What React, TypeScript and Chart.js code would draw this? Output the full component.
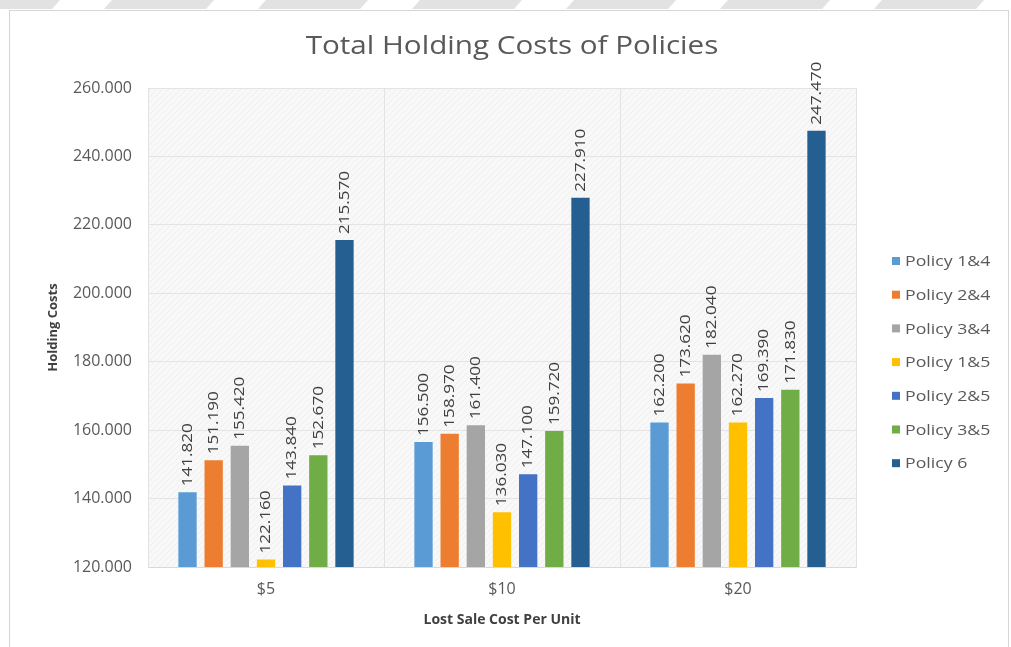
import React, { useEffect, useRef } from "react";
import { Chart, registerables } from "chart.js";

Chart.register(...registerables);

const chartTitle = "Total Holding Costs of Policies";
const yAxisTitle = "Holding Costs";
const xAxisTitle = "Lost Sale Cost Per Unit";

const categories = ["$5", "$10", "$20"];
const seriesNames = ["Policy 1&4", "Policy 2&4", "Policy 3&4", "Policy 1&5", "Policy 2&5", "Policy 3&5", "Policy 6"];
const policy14 = [141820, 156500, 162200];
const policy24 = [151190, 158970, 173620];
const policy34 = [155420, 161400, 182040];
const policy15 = [122160, 136030, 162270];
const policy25 = [143840, 147100, 169390];
const policy35 = [152670, 159720, 171830];
const policy6 = [215570, 227910, 247470];
const seriesValues = [policy14, policy24, policy34, policy15, policy25, policy35, policy6];
const seriesColors = ["#5B9BD5", "#ED7D31", "#A5A5A5", "#FFC000", "#4472C4", "#70AD47", "#255E91"];

const yMin = 120000;
const yMax = 260000;
const yStep = 20000;

const FONT = "'Open Sans', 'Noto Sans', sans-serif";

function fmt(v: number): string {
  return Math.round(v).toString().replace(/\B(?=(\d{3})+(?!\d))/g, ".");
}

const decorPlugin = {
  id: "decor",
  beforeDraw(chart: any) {
    const { ctx, width, height, chartArea } = chart;
    ctx.save();
    ctx.fillStyle = "#ffffff";
    ctx.fillRect(0, 0, width, height);
    // faint watermark stripes at top
    ctx.fillStyle = "#e2e2e2";
    for (let x = -50; x < width + 160; x += 154) {
      ctx.beginPath();
      ctx.moveTo(x + 8, 0);
      ctx.lineTo(x + 110, 0);
      ctx.lineTo(x + 102, 9);
      ctx.lineTo(x, 9);
      ctx.closePath();
      ctx.fill();
    }
    // outer frame
    ctx.strokeStyle = "#d6d6d6";
    ctx.lineWidth = 1;
    ctx.strokeRect(9.5, 10.5, width - 12, height + 10);
    // plot area background with faint hatch
    const pc = document.createElement("canvas");
    pc.width = 6;
    pc.height = 6;
    const p = pc.getContext("2d")!;
    p.fillStyle = "#f8f8f8";
    p.fillRect(0, 0, 6, 6);
    p.strokeStyle = "#efefef";
    p.lineWidth = 1;
    p.beginPath();
    p.moveTo(0, 6);
    p.lineTo(6, 0);
    p.stroke();
    const pattern = ctx.createPattern(pc, "repeat");
    ctx.fillStyle = pattern || "#f6f6f6";
    ctx.fillRect(chartArea.left, chartArea.top, chartArea.right - chartArea.left, chartArea.bottom - chartArea.top);
    ctx.restore();
  },
  afterDraw(chart: any) {
    const { ctx, chartArea } = chart;
    ctx.save();
    // title
    ctx.save();
    ctx.fillStyle = "#595959";
    ctx.font = `26px ${FONT}`;
    ctx.textAlign = "center";
    ctx.textBaseline = "middle";
    ctx.translate(512, 47);
    ctx.scale(1.14, 1);
    ctx.fillText(chartTitle, 0, 0);
    ctx.restore();
    // legend
    const startY = 261;
    const stepY = 33.7;
    chart.data.datasets.forEach((ds: any, i: number) => {
      const y = startY + i * stepY;
      ctx.fillStyle = ds.backgroundColor;
      ctx.fillRect(chartArea.right + 36, y - 4, 8, 8);
      ctx.save();
      ctx.fillStyle = "#595959";
      ctx.font = `15px ${FONT}`;
      ctx.textAlign = "left";
      ctx.textBaseline = "middle";
      ctx.translate(chartArea.right + 49, y + 1);
      ctx.scale(1.18, 1);
      ctx.fillText(ds.label, 0, 0);
      ctx.restore();
    });
    ctx.restore();
  },
};

const dataLabelPlugin = {
  id: "barLabels",
  afterDatasetsDraw(chart: any) {
    const { ctx } = chart;
    ctx.save();
    ctx.font = `15px ${FONT}`;
    ctx.fillStyle = "#404040";
    ctx.textAlign = "left";
    ctx.textBaseline = "middle";
    chart.data.datasets.forEach((ds: any, di: number) => {
      const meta = chart.getDatasetMeta(di);
      meta.data.forEach((bar: any, i: number) => {
        const v = ds.data[i];
        ctx.save();
        ctx.translate(bar.x, bar.y - 6);
        ctx.rotate(-Math.PI / 2);
        ctx.scale(1.14, 1);
        ctx.fillText(fmt(v), 0, 0);
        ctx.restore();
      });
    });
    ctx.restore();
  },
};

export default function App() {
  const canvasRef = useRef<HTMLCanvasElement | null>(null);

  useEffect(() => {
    document.body.style.margin = "0";
    const canvas = canvasRef.current;
    if (!canvas) return;
    const chart = new Chart(canvas, {
      type: "bar",
      data: {
        labels: categories,
        datasets: seriesNames.map((name, i) => ({
          label: name,
          data: seriesValues[i],
          backgroundColor: seriesColors[i],
          borderWidth: 0,
          categoryPercentage: 0.776,
          barPercentage: 0.7,
        })),
      },
      options: {
        animation: false,
        responsive: false,
        devicePixelRatio: 1,
        layout: { padding: { left: 38, right: 155, top: 88, bottom: 10 } },
        plugins: {
          legend: { display: false },
          title: { display: false },
          tooltip: { enabled: false },
        },
        scales: {
          x: {
            grid: { color: "#e3e3e3", offset: true, drawTicks: false },
            border: { color: "#d9d9d9" },
            ticks: { color: "#595959", font: { family: FONT, size: 16 }, padding: 13 },
            title: {
              display: true,
              text: xAxisTitle,
              color: "#404040",
              font: { family: FONT, size: 14, weight: "bold" },
              padding: { top: 0, bottom: 9 },
            },
            afterFit(scale: any) {
              scale.height = 70;
            },
          },
          y: {
            min: yMin,
            max: yMax,
            grid: { color: "#e3e3e3", drawTicks: false },
            border: { display: false },
            ticks: {
              stepSize: yStep,
              color: "#595959",
              font: { family: FONT, size: 16 },
              padding: 16,
              callback: (v: any) => fmt(Number(v)),
            },
            title: {
              display: true,
              text: yAxisTitle,
              color: "#404040",
              font: { family: FONT, size: 13, weight: "bold" },
              padding: { top: 7, bottom: 0 },
            },
            afterFit(scale: any) {
              scale.width = 110;
            },
          },
        },
      },
      plugins: [decorPlugin, dataLabelPlugin],
    });
    return () => chart.destroy();
  }, []);

  return (
    <div style={{ width: 1011, height: 647 }}>
      <canvas ref={canvasRef} width={1011} height={647} style={{ display: "block" }} />
    </div>
  );
}
